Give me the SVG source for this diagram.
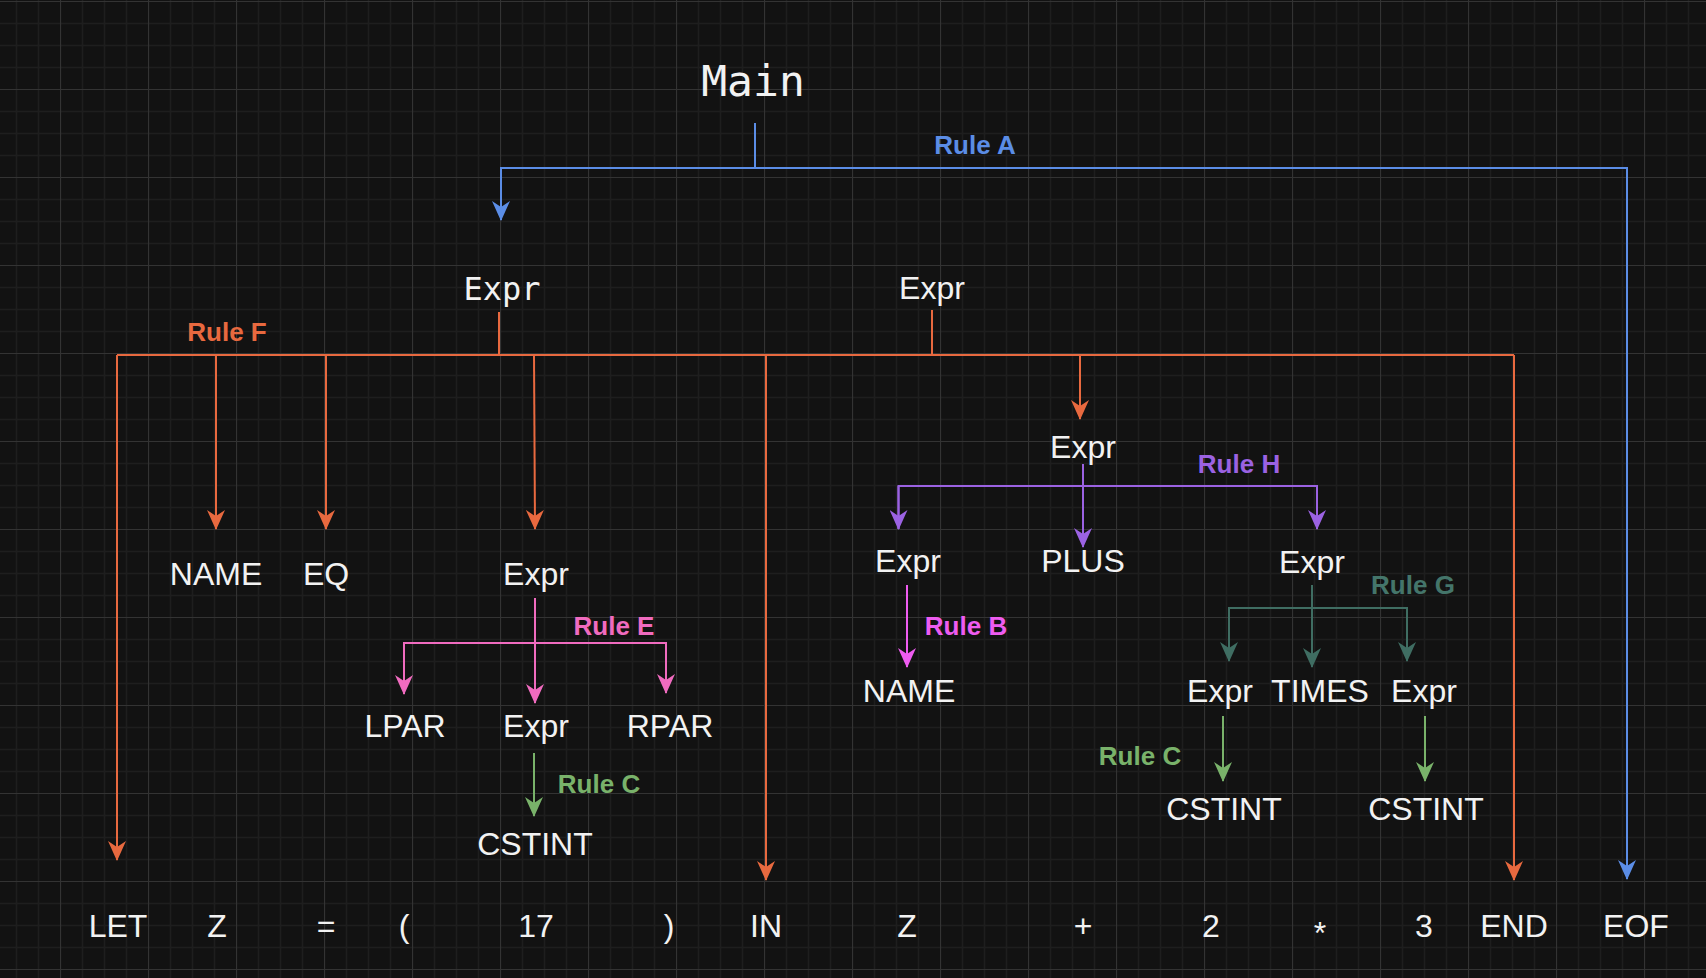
<svg xmlns="http://www.w3.org/2000/svg" width="1706" height="978" viewBox="0 0 1706 978">
  <defs>
    <pattern id="grid" x="60" y="1" width="88" height="88" patternUnits="userSpaceOnUse">
      <path d="M22.5 0V88M44.5 0V88M66.5 0V88M0 22.5H88M0 44.5H88M0 66.5H88" stroke="#1e1e1e" stroke-width="1.5" fill="none"/>
      <path d="M0.5 0V88M0 0.5H88" stroke="#333333" stroke-width="1.2" fill="none"/>
    </pattern>
    <marker id="ah-blue" viewBox="0 0 20 18" refX="19" refY="9" markerWidth="20" markerHeight="18" markerUnits="userSpaceOnUse" orient="auto"><path d="M0 0L20 9L0 18L6 9Z" fill="#5b8de6"/></marker>
    <marker id="ah-orange" viewBox="0 0 20 18" refX="19" refY="9" markerWidth="20" markerHeight="18" markerUnits="userSpaceOnUse" orient="auto"><path d="M0 0L20 9L0 18L6 9Z" fill="#e8693f"/></marker>
    <marker id="ah-pink" viewBox="0 0 20 18" refX="19" refY="9" markerWidth="20" markerHeight="18" markerUnits="userSpaceOnUse" orient="auto"><path d="M0 0L20 9L0 18L6 9Z" fill="#f06bbf"/></marker>
    <marker id="ah-magenta" viewBox="0 0 20 18" refX="19" refY="9" markerWidth="20" markerHeight="18" markerUnits="userSpaceOnUse" orient="auto"><path d="M0 0L20 9L0 18L6 9Z" fill="#ee5cf0"/></marker>
    <marker id="ah-purple" viewBox="0 0 20 18" refX="19" refY="9" markerWidth="20" markerHeight="18" markerUnits="userSpaceOnUse" orient="auto"><path d="M0 0L20 9L0 18L6 9Z" fill="#9b62e2"/></marker>
    <marker id="ah-teal" viewBox="0 0 20 18" refX="19" refY="9" markerWidth="20" markerHeight="18" markerUnits="userSpaceOnUse" orient="auto"><path d="M0 0L20 9L0 18L6 9Z" fill="#3f6d62"/></marker>
    <marker id="ah-green" viewBox="0 0 20 18" refX="19" refY="9" markerWidth="20" markerHeight="18" markerUnits="userSpaceOnUse" orient="auto"><path d="M0 0L20 9L0 18L6 9Z" fill="#79b26a"/></marker>
  </defs>
  <style>
    .sym { font-family: "Liberation Sans", Arial, sans-serif; font-size: 32px; fill: #f2f2f2; text-anchor: middle; }
    .mono { font-family: "DejaVu Sans Mono", "Liberation Mono", monospace; fill: #f2f2f2; text-anchor: middle; }
    .rule { font-family: "Liberation Sans", Arial, sans-serif; font-size: 26px; font-weight: bold; text-anchor: middle; }
    .c { fill: none; stroke-width: 2; }
    .blue { stroke: #5b8de6; } .orange { stroke: #e8693f; } .pink { stroke: #f06bbf; }
    .magenta { stroke: #ee5cf0; } .purple { stroke: #9b62e2; } .teal { stroke: #3f6d62; } .green { stroke: #79b26a; }
  </style>

  <rect width="1706" height="978" fill="#121212"/>
  <rect width="1706" height="978" fill="url(#grid)"/>

  <g id="connectors">
    <!-- Rule A -->
    <path class="c blue" d="M755 123V168"/>
    <path class="c blue" d="M755 168H501V220" marker-end="url(#ah-blue)"/>
    <path class="c blue" d="M755 168H1627V879" marker-end="url(#ah-blue)"/>
    <!-- Rule F -->
    <path class="c orange" d="M499 312V355"/>
    <path class="c orange" d="M932 310V355"/>
    <path class="c orange" d="M117 355H1514"/>
    <path class="c orange" d="M117 355V860" marker-end="url(#ah-orange)"/>
    <path class="c orange" d="M216 355V529" marker-end="url(#ah-orange)"/>
    <path class="c orange" d="M326 355V529" marker-end="url(#ah-orange)"/>
    <path class="c orange" d="M534 355L535 529" marker-end="url(#ah-orange)"/>
    <path class="c orange" d="M766 355V880" marker-end="url(#ah-orange)"/>
    <path class="c orange" d="M1080 355V419" marker-end="url(#ah-orange)"/>
    <path class="c orange" d="M1514 355V880" marker-end="url(#ah-orange)"/>
    <!-- Rule E -->
    <path class="c pink" d="M535 598V703" marker-end="url(#ah-pink)"/>
    <path class="c pink" d="M404 694V643H666V693" marker-end="url(#ah-pink)"/>
    <path class="c pink" d="M404 643V694" marker-end="url(#ah-pink)"/>
    <!-- Rule C (left) -->
    <path class="c green" d="M534 753V816" marker-end="url(#ah-green)"/>
    <!-- Rule B -->
    <path class="c magenta" d="M907 585V667" marker-end="url(#ah-magenta)"/>
    <!-- Rule H -->
    <path class="c purple" d="M1083 464V547" marker-end="url(#ah-purple)"/>
    <path class="c purple" d="M898.5 529V486H1317V529" marker-end="url(#ah-purple)"/>
    <path class="c purple" d="M898.5 486V529" marker-end="url(#ah-purple)"/>
    <!-- Rule G -->
    <path class="c teal" d="M1312 585V667" marker-end="url(#ah-teal)"/>
    <path class="c teal" d="M1229 661V608H1407V661" marker-end="url(#ah-teal)"/>
    <path class="c teal" d="M1229 608V661" marker-end="url(#ah-teal)"/>
    <!-- Rule C (right) -->
    <path class="c green" d="M1223 716V781" marker-end="url(#ah-green)"/>
    <path class="c green" d="M1425 716V781" marker-end="url(#ah-green)"/>
  </g>

  <g id="rule-labels">
    <text class="rule" x="975" y="154" fill="#5b8de6">Rule A</text>
    <text class="rule" x="227" y="341" fill="#e8693f">Rule F</text>
    <text class="rule" x="614" y="635" fill="#f06bbf">Rule E</text>
    <text class="rule" x="966" y="635" fill="#ee5cf0">Rule B</text>
    <text class="rule" x="1239" y="473" fill="#9b62e2">Rule H</text>
    <text class="rule" x="1413" y="594" fill="#44756a">Rule G</text>
    <text class="rule" x="599" y="793" fill="#79b26a">Rule C</text>
    <text class="rule" x="1140" y="765" fill="#79b26a">Rule C</text>
  </g>

  <g id="main"><text class="mono" x="753" y="96" font-size="43">Main</text></g>
  <g id="expr-let"><text class="mono" x="502" y="300" font-size="32">Expr</text></g>
  <g id="expr-body"><text class="sym" x="932" y="299">Expr</text></g>

  <g id="name-let"><text class="sym" x="216" y="585">NAME</text></g>
  <g id="eq"><text class="sym" x="326" y="585">EQ</text></g>
  <g id="expr-paren"><text class="sym" x="536" y="585">Expr</text></g>
  <g id="lpar"><text class="sym" x="405" y="737">LPAR</text></g>
  <g id="expr-17"><text class="sym" x="536" y="737">Expr</text></g>
  <g id="rpar"><text class="sym" x="670" y="737">RPAR</text></g>
  <g id="cstint-17"><text class="sym" x="535" y="855">CSTINT</text></g>

  <g id="expr-plus"><text class="sym" x="1083" y="458">Expr</text></g>
  <g id="expr-z"><text class="sym" x="908" y="572">Expr</text></g>
  <g id="plus"><text class="sym" x="1083" y="572">PLUS</text></g>
  <g id="expr-times"><text class="sym" x="1312" y="573">Expr</text></g>
  <g id="name-z"><text class="sym" x="909" y="702">NAME</text></g>
  <g id="expr-2"><text class="sym" x="1220" y="702">Expr</text></g>
  <g id="times"><text class="sym" x="1320" y="702">TIMES</text></g>
  <g id="expr-3"><text class="sym" x="1424" y="702">Expr</text></g>
  <g id="cstint-2"><text class="sym" x="1224" y="820">CSTINT</text></g>
  <g id="cstint-3"><text class="sym" x="1426" y="820">CSTINT</text></g>

  <g id="tokens">
    <text class="sym" x="118" y="937">LET</text>
    <text class="sym" x="217" y="937">Z</text>
    <text class="sym" x="326" y="937">=</text>
    <text class="sym" x="404" y="937">(</text>
    <text class="sym" x="536" y="937">17</text>
    <text class="sym" x="669" y="937">)</text>
    <text class="sym" x="766" y="937">IN</text>
    <text class="sym" x="907" y="937">Z</text>
    <text class="sym" x="1083" y="937">+</text>
    <text class="sym" x="1211" y="937">2</text>
    <text class="sym" x="1320" y="944">*</text>
    <text class="sym" x="1424" y="937">3</text>
    <text class="sym" x="1514" y="937">END</text>
    <text class="sym" x="1636" y="937">EOF</text>
  </g>
</svg>
